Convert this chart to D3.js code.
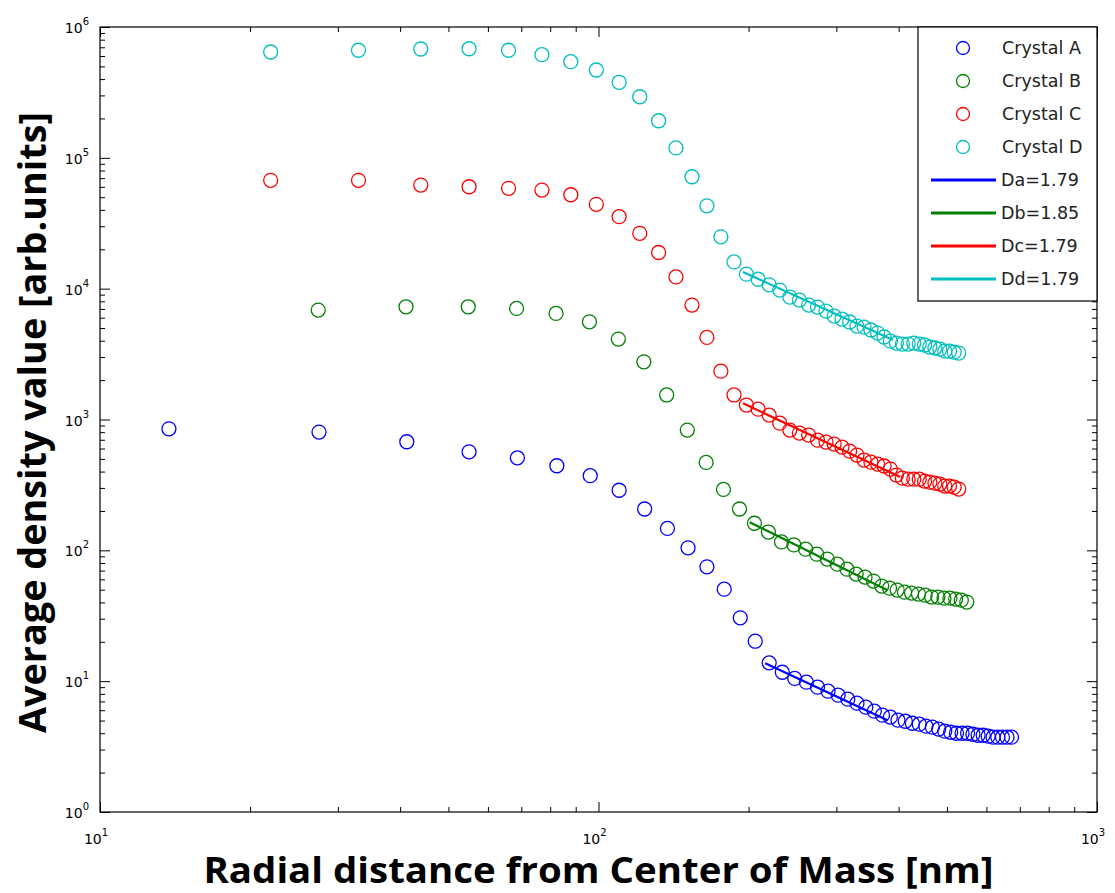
<!DOCTYPE html>
<html>
<head>
<meta charset="utf-8">
<script src="https://cdn.jsdelivr.net/npm/d3@7"></script>
<style>
  body { margin: 0; background: #fff; }
  svg { display: block; }
</style>
</head>
<body>
<svg id="chart" width="1115" height="893"></svg>
<script>
// values
var seriesNames = ["Crystal A", "Crystal B", "Crystal C", "Crystal D"]
var fitNames = ["Da=1.79", "Db=1.85", "Dc=1.79", "Dd=1.79"]
var colors = ["#0000ff", "#008000", "#ff0000", "#00bfbf"]

var blueX = [13.75,27.5,41.25,55,68.75,82.5,96.25,110,123.75,137.5,151.25,165,178.75,192.5,206.25,220,
  233.75,247.5,261.25,275,288.75,302.5,316.25,330,343.75,357.5,371.25,385,398.75,412.5,426.25,440,
  453.75,467.5,481.25,495,508.75,522.5,536.25,550,563.75,577.5,591.25,605,618.75,632.5,646.25,660,673.75]
var blueY = [849,801,676,566,509,443,372,288,207,147,104.5,74.8,50.5,30.5,20.2,13.8,
  11.7,10.5,9.82,9.00,8.39,7.82,7.28,6.79,6.33,5.90,5.50,5.31,5.03,4.94,4.77,4.69,
  4.53,4.45,4.30,4.15,4.07,4.00,4.00,4.00,3.93,3.86,3.86,3.80,3.73,3.73,3.73,3.73,3.73]

var greenX = [27.4,41.1,54.8,68.5,82.2,95.9,109.6,123.3,137,150.7,164.4,178.1,191.8,205.5,219.2,
  232.9,246.6,260.3,274,287.7,301.4,315.1,328.8,342.5,356.2,369.9,383.6,397.3,411,424.7,438.4,
  452.1,465.8,479.5,493.2,506.9,520.6,534.3,548]
var greenY = [6860,7270,7270,7060,6470,5580,4120,2760,1540,830,470,292,207,161,138,
  116,110,102,93.5,85.7,78.4,71.8,65.8,62.4,58.2,53.3,51.4,49.7,47.9,47.1,46.3,
  45.4,43.9,43.9,43.1,43.1,42.4,41.6,40.2]

var redX = [22,33,44,55,66,77,88,99,110,121,132,143,154,165,176,187,198,209,220,231,242,253,264,275,
  286,297,308,319,330,341,352,363,374,385,396,407,418,429,440,451,462,473,484,495,506,517,528]
var redY = [67300,67300,61900,60100,58500,56700,52200,44100,35500,26500,18900,12300,7490,4240,2340,1540,
  1290,1200,1080,938,830,787,760,695,672,649,615,573,535,490,472,456,441,418,376,356,350,350,350,
  338,332,326,321,310,310,304,294]

var cyanX = redX.slice()
var cyanY = [644000,664000,679000,682000,664000,614000,543000,469000,378000,293000,192000,119000,71700,43000,24900,16000,
  12900,11800,10700,9750,8630,8180,7490,7230,6740,6170,5860,5560,5180,5080,4830,4580,4270,3970,3840,
  3770,3770,3840,3770,3710,3580,3520,3450,3330,3330,3270,3220]

// fitted power-law segments, end points [x, y]
var fitA = [[216, 13.7], [380, 5.03]]
var fitB = [[201, 164], [380, 49.6]]
var fitC = [[195, 1330], [403, 363]]
var fitD = [[195, 13400], [390, 4050]]

var xMajor = [10, 100, 1000]
var yMajor = [1, 10, 100, 1000, 10000, 100000, 1000000]

var width = 1115, height = 893
var box = {left: 100, right: 1097, top: 27, bottom: 812}

var svg = d3.select("#chart")

var x = d3.scaleLog().domain([10, 1000]).range([box.left, box.right])
var y = d3.scaleLog().domain([1, 1e6]).range([box.bottom, box.top])

function minorsOf(majors){
    var out = []
    for (let i=0; i<majors.length-1; i++){
        for (let k=2; k<10; k++) out.push(majors[i]*k)
    }
    return out
}
var xMinor = minorsOf(xMajor)
var yMinor = minorsOf(yMajor)

// ticks, all pointing inward, on the four sides
function tickAxis(axisFn, scale, vals, size, tr){
    svg.append("g")
        .attr("transform", tr)
        .call(axisFn(scale).tickValues(vals).tickSizeInner(size).tickSizeOuter(0).tickFormat(""))
        .call(g => g.select(".domain").remove())
        .call(g => g.selectAll("line").attr("stroke", "#000").attr("stroke-width", 1))
}
tickAxis(d3.axisBottom, x, xMajor, -10, `translate(0,${box.bottom})`)
tickAxis(d3.axisBottom, x, xMinor, -5, `translate(0,${box.bottom})`)
tickAxis(d3.axisTop, x, xMajor, -10, `translate(0,${box.top})`)
tickAxis(d3.axisTop, x, xMinor, -5, `translate(0,${box.top})`)
tickAxis(d3.axisLeft, y, yMajor, -10, `translate(${box.left},0)`)
tickAxis(d3.axisLeft, y, yMinor, -5, `translate(${box.left},0)`)
tickAxis(d3.axisRight, y, yMajor, -10, `translate(${box.right},0)`)
tickAxis(d3.axisRight, y, yMinor, -5, `translate(${box.right},0)`)

svg.append("rect")
    .attr("x", box.left).attr("y", box.top)
    .attr("width", box.right-box.left).attr("height", box.bottom-box.top)
    .attr("fill", "none").attr("stroke", "#000").attr("stroke-width", 1.2)

// tick labels 10^n
var tickFont = "'DejaVu Sans', sans-serif"
xMajor.forEach(function(v){
    let t = svg.append("text")
        .attr("x", x(v) - 4).attr("y", 844)
        .attr("text-anchor", "middle")
        .attr("font-family", tickFont).attr("font-size", 14).attr("fill", "#000")
    t.append("tspan").text("10")
    t.append("tspan").attr("dy", -8).attr("font-size", 10).text(Math.round(Math.log10(v)))
})
yMajor.forEach(function(v){
    let t = svg.append("text")
        .attr("x", 89).attr("y", y(v) + 6)
        .attr("text-anchor", "end")
        .attr("font-family", tickFont).attr("font-size", 14).attr("fill", "#000")
    t.append("tspan").text("10")
    t.append("tspan").attr("dy", -8).attr("font-size", 10).text(Math.round(Math.log10(v)))
})

// axis titles
var titleFont = "'Open Sans', 'Noto Sans', sans-serif"
svg.append("text")
    .attr("x", (box.left+box.right)/2).attr("y", 883)
    .attr("text-anchor", "middle")
    .attr("font-family", titleFont).attr("font-weight", "bold").attr("font-size", 36)
    .attr("textLength", 790).attr("lengthAdjust", "spacingAndGlyphs")
    .text("Radial distance from Center of Mass [nm]")

svg.append("text")
    .attr("transform", `translate(46,${(box.top+box.bottom)/2 + 3}) rotate(-90)`)
    .attr("text-anchor", "middle")
    .attr("font-family", titleFont).attr("font-weight", "bold").attr("font-size", 37)
    .attr("textLength", 621).attr("lengthAdjust", "spacingAndGlyphs")
    .text("Average density value [arb.units]")

// markers
var series = [
    {xs: blueX, ys: blueY, color: colors[0]},
    {xs: greenX, ys: greenY, color: colors[1]},
    {xs: redX, ys: redY, color: colors[2]},
    {xs: cyanX, ys: cyanY, color: colors[3]}
]
var plot = svg.append("g")
series.forEach(function(s){
    plot.append("g")
        .selectAll("circle")
        .data(s.xs.map((d,i) => [d, s.ys[i]]))
        .enter()
        .append("circle")
        .attr("cx", d => x(d[0]))
        .attr("cy", d => y(d[1]))
        .attr("r", 7)
        .attr("fill", "none")
        .attr("stroke", s.color)
        .attr("stroke-width", 1.3)
})

// fit lines
var line = d3.line().x(d => x(d[0])).y(d => y(d[1]))
var fits = [fitA, fitB, fitC, fitD]
fits.forEach(function(f, i){
    plot.append("path")
        .attr("d", line(f))
        .attr("fill", "none")
        .attr("stroke", colors[i])
        .attr("stroke-width", 2.2)
})

// legend
var legend = svg.append("g")
legend.append("rect")
    .attr("x", 918).attr("y", box.top)
    .attr("width", box.right-918).attr("height", 301-box.top)
    .attr("fill", "#fff").attr("stroke", "#000").attr("stroke-width", 1.2)

var rowY = d3.scaleLinear().domain([0, 7]).range([48, 279])
seriesNames.forEach(function(name, i){
    legend.append("circle")
        .attr("cx", 963).attr("cy", rowY(i)).attr("r", 6.5)
        .attr("fill", "none").attr("stroke", colors[i]).attr("stroke-width", 1.3)
    legend.append("text")
        .attr("x", 1002).attr("y", rowY(i) + 6)
        .attr("font-family", tickFont).attr("font-size", 17.5).attr("fill", "#222")
        .text(name)
})
fitNames.forEach(function(name, i){
    let ry = rowY(i + 4)
    legend.append("line")
        .attr("x1", 931).attr("x2", 996).attr("y1", ry).attr("y2", ry)
        .attr("stroke", colors[i]).attr("stroke-width", 3)
    legend.append("text")
        .attr("x", 1001).attr("y", ry + 6)
        .attr("font-family", tickFont).attr("font-size", 17.5).attr("fill", "#222")
        .text(name)
})
</script>
</body>
</html>
